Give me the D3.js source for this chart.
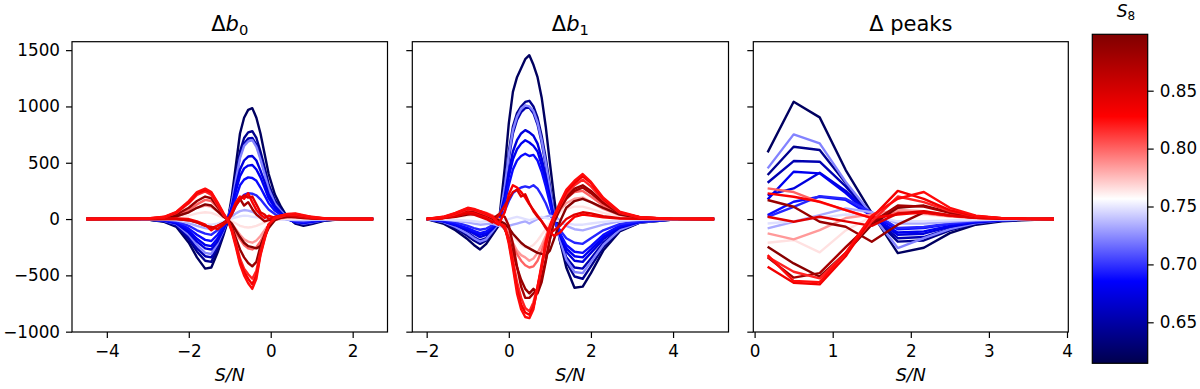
<!DOCTYPE html>
<html lang="en">
<head>
<meta charset="utf-8">
<title>Delta b0, b1, peaks vs S8</title>
<script src="https://d3js.org/d3.v7.min.js"></script>
<style>
	body { margin: 0; background: #ffffff; }
	svg { display: block; font-family: "DejaVu Sans", sans-serif; }
</style>
</head>
<body>
<svg id="chart" width="1200" height="389"></svg>
<script>

// S/N bins for each panel
var b0X = [-4.5, -3.0, -2.6, -2.3, -2.0, -1.8, -1.6, -1.45, -1.3, -1.15, -1.05, -0.95, -0.85, -0.75, -0.65,
	-0.55, -0.45, -0.35, -0.25, -0.15, -0.05, 0.1, 0.25, 0.4, 0.6, 0.8, 1.0, 1.3, 1.7, 2.5]
var b1X = [-2.0, -1.6, -1.3, -1.0, -0.85, -0.7, -0.55, -0.4, -0.25, -0.1, 0.0, 0.1, 0.2, 0.3, 0.4, 0.5,
	0.6, 0.7, 0.8, 0.9, 1.0, 1.1, 1.25, 1.4, 1.6, 1.8, 2.0, 2.3, 2.7, 3.2, 4.0, 5.0]
var peaksX = [0.1667, 0.5, 0.8333, 1.1667, 1.5, 1.8333, 2.1667, 2.5, 2.8333, 3.1667, 3.5, 3.8333]

// S8 of each cosmology (one curve per panel each)
var s8Values = [0.622, 0.640, 0.655, 0.722, 0.672, 0.680, 0.688, 0.696, 0.733, 0.748, 0.765,
	0.785, 0.800, 0.885, 0.895, 0.878, 0.830, 0.845, 0.818, 0.835, 0.825]

var b0Curves = [
	[0, -5, -25, -70, -210, -340, -440, -430, -300, -140, -20, 200, 480, 760, 900, 970, 985, 900, 760, 580, 400, 220, 110, 20, -40, -60, -45, -15, -3, 0],
	[0, -4, -20, -60, -180, -290, -370, -380, -270, -120, -15, 160, 390, 600, 720, 770, 780, 720, 600, 460, 310, 170, 85, 15, -35, -50, -38, -12, -2, 0],
	[0, -4, -18, -55, -160, -260, -330, -340, -240, -110, -10, 150, 360, 560, 670, 715, 720, 660, 550, 420, 280, 150, 75, 12, -30, -45, -35, -10, -2, 0],
	[0, -3, -15, -45, -140, -230, -300, -310, -220, -100, -5, 140, 350, 540, 650, 690, 700, 640, 530, 400, 270, 140, 70, 10, -25, -40, -30, -8, -2, 0],
	[0, -3, -14, -40, -120, -200, -260, -270, -200, -90, -5, 110, 290, 440, 520, 555, 560, 520, 430, 330, 220, 115, 55, 5, -25, -35, -25, -8, -1, 0],
	[0, -3, -12, -35, -105, -175, -230, -240, -175, -80, -5, 95, 250, 380, 450, 475, 480, 440, 370, 280, 185, 100, 45, 0, -25, -30, -22, -6, -1, 0],
	[0, -2, -10, -28, -85, -140, -185, -195, -140, -65, -5, 75, 190, 300, 350, 370, 365, 340, 280, 210, 140, 75, 35, 0, -20, -28, -18, -5, -1, 0],
	[0, -2, -8, -20, -60, -100, -130, -140, -100, -50, -5, 45, 120, 180, 215, 230, 225, 210, 175, 130, 85, 45, 15, -5, -18, -22, -14, -4, -1, 0],
	[0, -1, -5, -12, -35, -60, -80, -90, -70, -35, -5, 20, 50, 70, 80, 75, 65, 45, 30, 20, 10, 5, 0, -5, -8, -10, -6, -2, 0, 0],
	[0, -1, -3, -8, -20, -35, -45, -50, -40, -20, -5, 5, 15, 25, 30, 28, 20, 15, 10, 5, 0, -5, -5, -3, -3, -3, -2, -1, 0, 0],
	[0, 1, 4, 12, 30, 50, 60, 55, 35, 10, -2, -20, -40, -60, -70, -75, -70, -60, -45, -30, -15, -5, 0, 5, 5, 3, 2, 1, 0, 0],
	[0, 2, 8, 25, 60, 100, 120, 110, 70, 20, -5, -40, -90, -140, -180, -200, -210, -190, -150, -100, -50, -10, 5, 15, 15, 10, 5, 2, 0, 0],
	[0, 3, 10, 30, 80, 130, 170, 160, 100, 30, -5, -50, -120, -180, -230, -260, -270, -250, -200, -130, -60, -10, 10, 20, 20, 15, 8, 3, 1, 0],
	[0, 3, 12, 40, 100, 160, 200, 185, 110, 30, -5, -70, -170, -270, -340, -390, -420, -380, -240, -140, -50, 0, 20, 30, 30, 20, 12, 4, 1, 0],
	[0, 2, 8, 25, 60, 100, 130, 120, 70, 20, -5, -40, -100, -160, -210, -240, -250, -260, -240, -160, -80, -10, 15, 20, 20, 15, 8, 3, 1, 0],
	[0, 1, 2, 0, -10, -30, -55, -80, -60, -30, -5, 50, 140, 180, 120, 150, 90, 40, 10, -20, -10, 0, 10, 20, 15, 10, 5, 2, 0, 0],
	[0, 1, 3, 5, 0, -20, -50, -100, -60, -40, -10, 60, 150, 200, 180, 230, 150, 80, 40, 10, 30, 10, 20, 40, 30, 20, 10, 3, 1, 0],
	[0, 1, 2, 0, -10, -30, -60, -70, -90, -50, -20, 40, 120, 170, 210, 190, 200, 130, 60, 40, 0, 20, 30, 30, 25, 15, 8, 3, 1, 0],
	[0, 4, 16, 55, 140, 215, 245, 215, 125, 35, -5, -90, -210, -350, -440, -490, -530, -460, -290, -160, -45, 5, 25, 40, 40, 28, 15, 5, 1, 0],
	[0, 5, 18, 60, 150, 230, 260, 235, 140, 45, -5, -100, -230, -380, -470, -530, -580, -500, -310, -170, -50, 10, 30, 40, 45, 30, 18, 6, 2, 0],
	[0, 5, 20, 65, 160, 240, 270, 240, 150, 50, -10, -110, -250, -400, -500, -570, -620, -530, -320, -180, -50, 10, 30, 45, 50, 35, 20, 8, 2, 0]
]

var b1Curves = [
	[0, -40, -100, -180, -230, -270, -220, -140, -60, 450, 850, 1130, 1260, 1340, 1420, 1455, 1370, 1260, 1080, 820, 500, 200, -200, -430, -610, -600, -480, -280, -110, -30, -4, 0],
	[0, -30, -80, -150, -190, -220, -190, -120, -50, 300, 600, 820, 940, 1000, 1040, 1050, 1000, 900, 740, 540, 300, 60, -200, -380, -510, -530, -420, -250, -100, -30, -4, 0],
	[0, -25, -65, -120, -160, -190, -170, -100, -40, 260, 540, 760, 880, 950, 985, 990, 940, 840, 680, 480, 250, 30, -180, -340, -430, -440, -350, -210, -90, -26, -3, 0],
	[0, -25, -70, -130, -170, -200, -180, -110, -40, 280, 570, 790, 910, 980, 1010, 1000, 960, 860, 700, 500, 270, 40, -190, -360, -470, -480, -380, -230, -95, -28, -3, 0],
	[0, -20, -55, -100, -130, -160, -140, -90, -30, 200, 420, 600, 700, 760, 790, 770, 740, 670, 540, 380, 200, 10, -150, -290, -370, -380, -300, -180, -78, -24, -3, 0],
	[0, -18, -50, -90, -120, -140, -125, -80, -25, 170, 380, 530, 620, 670, 700, 680, 650, 600, 480, 340, 170, 0, -140, -260, -330, -340, -270, -160, -68, -22, -3, 0],
	[0, -15, -45, -80, -105, -125, -110, -70, -20, 140, 300, 440, 520, 560, 580, 560, 570, 520, 420, 290, 140, -10, -130, -230, -290, -300, -240, -140, -60, -20, -2, 0],
	[0, -10, -30, -60, -80, -95, -85, -55, -15, 70, 160, 230, 260, 280, 290, 280, 300, 270, 210, 140, 50, -30, -100, -170, -210, -220, -170, -100, -45, -15, -2, 0],
	[0, -5, -15, -30, -40, -50, -45, -40, -60, -70, -60, -50, -40, -30, -20, -40, -20, 0, 10, 20, 30, 20, -10, -60, -90, -100, -80, -50, -20, -6, -1, 0],
	[0, -3, -8, -15, -20, -25, -20, -15, -20, -10, 0, 10, 20, 10, 0, -10, 0, 10, 20, 10, 0, -10, -20, -40, -50, -50, -40, -25, -10, -3, 0, 0],
	[0, 5, 15, 30, 35, 40, 35, 20, 0, -30, -80, -140, -190, -230, -250, -250, -230, -190, -140, -90, -35, 10, 60, 90, 110, 110, 90, 55, 20, 6, 1, 0],
	[0, 10, 25, 50, 55, 60, 50, 30, 0, -50, -120, -210, -280, -320, -340, -370, -350, -300, -230, -150, -60, 10, 80, 140, 180, 190, 150, 90, 35, 10, 1, 0],
	[0, 12, 30, 60, 70, 70, 55, 30, 0, -60, -140, -240, -310, -370, -410, -430, -420, -370, -280, -180, -70, 20, 110, 190, 240, 250, 200, 120, 45, 12, 2, 0],
	[0, 15, 40, 70, 75, 65, 45, 15, -20, -90, -170, -300, -430, -540, -620, -660, -620, -660, -560, -380, -180, -20, 110, 200, 270, 300, 250, 150, 55, 15, 2, 0],
	[0, 8, 20, 40, 45, 40, 30, 10, -10, -40, -80, -130, -170, -210, -240, -260, -280, -300, -310, -320, -280, -180, -20, 100, 160, 180, 150, 100, 40, 10, 1, 0],
	[0, 10, 30, 55, 60, 50, 30, 0, 40, 20, -60, -220, -420, -600, -700, -700, -660, -620, -520, -360, -180, -30, 90, 180, 250, 280, 230, 140, 50, 14, 2, 0],
	[0, 10, 30, 60, 50, 30, 10, -20, -50, 60, 220, 300, 280, 240, 190, 130, 80, 30, -20, -70, -110, -150, -120, -50, 20, 40, 30, 15, 5, 2, 0, 0],
	[0, 8, 25, 50, 40, 20, 0, -30, 30, 120, 180, 240, 260, 200, 220, 140, 70, 20, -20, -80, -130, -100, -60, 0, 40, 60, 50, 25, 8, 2, 0, 0],
	[0, 15, 45, 85, 80, 60, 40, 15, -30, -80, -180, -360, -560, -700, -790, -820, -740, -600, -430, -250, -90, 10, 120, 220, 300, 350, 290, 170, 55, 14, 2, 0],
	[0, 18, 50, 95, 85, 65, 45, 20, -30, -70, -200, -400, -620, -760, -830, -850, -780, -620, -420, -220, -70, 20, 130, 240, 320, 380, 320, 180, 60, 15, 2, 0],
	[0, 20, 55, 100, 90, 70, 50, 25, -40, -60, -220, -430, -660, -800, -870, -880, -800, -600, -400, -200, -60, 30, 150, 260, 340, 400, 330, 190, 65, 16, 2, 0]
]

var peaksCurves = [
	[592, 1042, 903, 435, 53, -302, -255, -125, -50, -20, -8, 0],
	[391, 642, 613, 320, 30, -200, -190, -100, -40, -15, -5, 0],
	[322, 515, 509, 290, 25, -170, -160, -85, -35, -12, -4, 0],
	[450, 752, 672, 330, 40, -258, -170, -90, -35, -12, -4, 0],
	[213, 272, 411, 250, 25, -140, -130, -70, -30, -10, -3, 0],
	[175, 420, 406, 230, 20, -120, -110, -60, -25, -8, -3, 0],
	[35, 154, 198, 170, 30, -90, -80, -45, -20, -6, -2, 0],
	[20, 109, 204, 180, 60, -80, -70, -40, -18, -6, -2, 0],
	[-83, -24, 35, 95, 60, -40, -40, -25, -10, -4, -1, 0],
	[-40, -20, 10, 40, 30, -20, -20, -12, -5, -2, -1, 0],
	[-210, -186, -296, -100, 20, 50, 40, 20, 8, 3, 1, 0],
	[-127, -180, -98, 9, 40, 80, 70, 35, 12, 4, 1, 0],
	[272, 240, 150, 80, 10, 60, 50, 25, 10, 3, 1, 0],
	[169, 109, -24, -68, -201, -50, 60, 30, 12, 4, 1, 0],
	[-246, -394, -512, -300, -50, 100, 120, 60, 20, 6, 2, 0],
	[-340, -520, -480, -250, -30, 120, 110, 55, 20, 6, 2, 0],
	[228, 198, 154, 80, 9, 40, 60, 30, 12, 4, 1, 0],
	[20, -24, 20, -20, -60, 50, 70, 35, 12, 4, 1, 0],
	[-334, -468, -527, -300, -20, 200, 150, 70, 25, 8, 2, 0],
	[-423, -566, -580, -330, 10, 250, 180, 80, 25, 8, 2, 0],
	[-320, -550, -560, -300, 30, 180, 240, 100, 30, 8, 2, 0]
]

var yTicks = [-1000, -500, 0, 500, 1000, 1500]
var xTicksList = [[-4, -2, 0, 2], [-2, 0, 2, 4], [0, 1, 2, 3, 4]]
var cbTicks = [0.65, 0.70, 0.75, 0.80, 0.85]
var s8Range = [0.6146, 0.8987]

// layout
var plotTop = 41.7, plotBottom = 332
var tickFont = 16.8
var panels = [
	{x0: 72, x1: 387.5, dom: [-4.85, 2.85], xs: b0X, curves: b0Curves, title: ["Δ", "b", "0"]},
	{x0: 412.3, x1: 728.5, dom: [-2.35, 5.35], xs: b1X, curves: b1Curves, title: ["Δ", "b", "1"]},
	{x0: 753.3, x1: 1068.3, dom: [-0.0167, 4.0167], xs: peaksX, curves: peaksCurves, title: ["Δ peaks"]}
]
var cb = {x0: 1092.3, x1: 1147.7, y0: 34.3, y1: 363.3}

var svg = d3.select("#chart")

var yScale = d3.scaleLinear().domain([-1003, 1575]).range([plotBottom, plotTop])

// seismic colormap
var seismic = d3.scaleLinear()
	.domain([0, 0.25, 0.5, 0.75, 1])
	.range(["rgb(0,0,77)", "rgb(0,0,255)", "rgb(255,255,255)", "rgb(255,0,0)", "rgb(128,0,0)"])
var s8Norm = d3.scaleLinear().domain(s8Range).range([0, 1]).clamp(true)
var colorOf = s => seismic(s8Norm(s))

function styleAxis(ax) {
	ax.select(".domain").remove()
	ax.attr("font-size", tickFont).attr("font-family", "DejaVu Sans")
	ax.selectAll(".tick line").attr("stroke", "black").attr("stroke-width", 1.2)
	ax.selectAll(".tick text").attr("fill", "black")
}

panels.forEach(function(p, pi) {
	var xScale = d3.scaleLinear().domain(p.dom).range([p.x0, p.x1])
	var g = svg.append("g")

	var line = d3.line()
		.x((d, i) => xScale(p.xs[i]))
		.y(d => yScale(d))

	g.append("g")
		.attr("fill", "none")
		.attr("stroke-width", 2.4)
		.attr("stroke-linejoin", "round")
		.selectAll("path")
		.data(p.curves)
		.join("path")
		.attr("stroke", (d, i) => colorOf(s8Values[i]))
		.attr("d", d => line(d))

	// frame
	g.append("rect")
		.attr("x", p.x0).attr("y", plotTop)
		.attr("width", p.x1 - p.x0).attr("height", plotBottom - plotTop)
		.attr("fill", "none").attr("stroke", "black").attr("stroke-width", 1.2)

	var xAxis = g.append("g")
		.attr("transform", "translate(0," + plotBottom + ")")
		.call(d3.axisBottom(xScale).tickValues(xTicksList[pi]).tickSize(6).tickPadding(7).tickFormat(d3.format("d")))
	var yAxis = g.append("g")
		.attr("transform", "translate(" + p.x0 + ",0)")
		.call(d3.axisLeft(yScale).tickValues(yTicks).tickSize(6).tickPadding(6).tickFormat(pi == 0 ? d3.format("d") : ""))
	styleAxis(xAxis)
	styleAxis(yAxis)

	// title
	var cx = (p.x0 + p.x1) / 2
	var t = g.append("text").attr("x", cx).attr("y", 30.5)
		.attr("text-anchor", "middle").attr("font-size", 21).attr("fill", "black")
	t.append("tspan").text(p.title[0])
	if (p.title.length > 1) {
		t.append("tspan").attr("font-style", "italic").text(p.title[1])
		t.append("tspan").attr("font-size", 14.7).attr("dy", 4.5).text(p.title[2])
	}

	// x label
	g.append("text").attr("x", cx).attr("y", 381)
		.attr("text-anchor", "middle").attr("font-size", 17.5).attr("font-style", "italic")
		.attr("fill", "black").text("S/N")
})

// colorbar
var defs = svg.append("defs")
var grad = defs.append("linearGradient").attr("id", "cbgrad")
	.attr("x1", 0).attr("y1", 1).attr("x2", 0).attr("y2", 0)
grad.selectAll("stop")
	.data(d3.range(0, 1.0001, 0.05))
	.join("stop")
	.attr("offset", d => d)
	.attr("stop-color", d => seismic(d))

svg.append("rect")
	.attr("x", cb.x0).attr("y", cb.y0)
	.attr("width", cb.x1 - cb.x0).attr("height", cb.y1 - cb.y0)
	.attr("fill", "url(#cbgrad)")
	.attr("stroke", "black").attr("stroke-width", 1.2)

var cbScale = d3.scaleLinear().domain(s8Range).range([cb.y1, cb.y0])
var cbAxis = svg.append("g")
	.attr("transform", "translate(" + cb.x1 + ",0)")
	.call(d3.axisRight(cbScale).tickValues(cbTicks).tickSize(6).tickPadding(6).tickFormat(d3.format(".2f")))
styleAxis(cbAxis)

var cbLabel = svg.append("text").attr("x", 1126).attr("y", 17)
	.attr("text-anchor", "middle").attr("font-size", 17).attr("fill", "black")
cbLabel.append("tspan").attr("font-style", "italic").text("S")
cbLabel.append("tspan").attr("font-size", 12).attr("dy", 3).text("8")

</script>
</body>
</html>
